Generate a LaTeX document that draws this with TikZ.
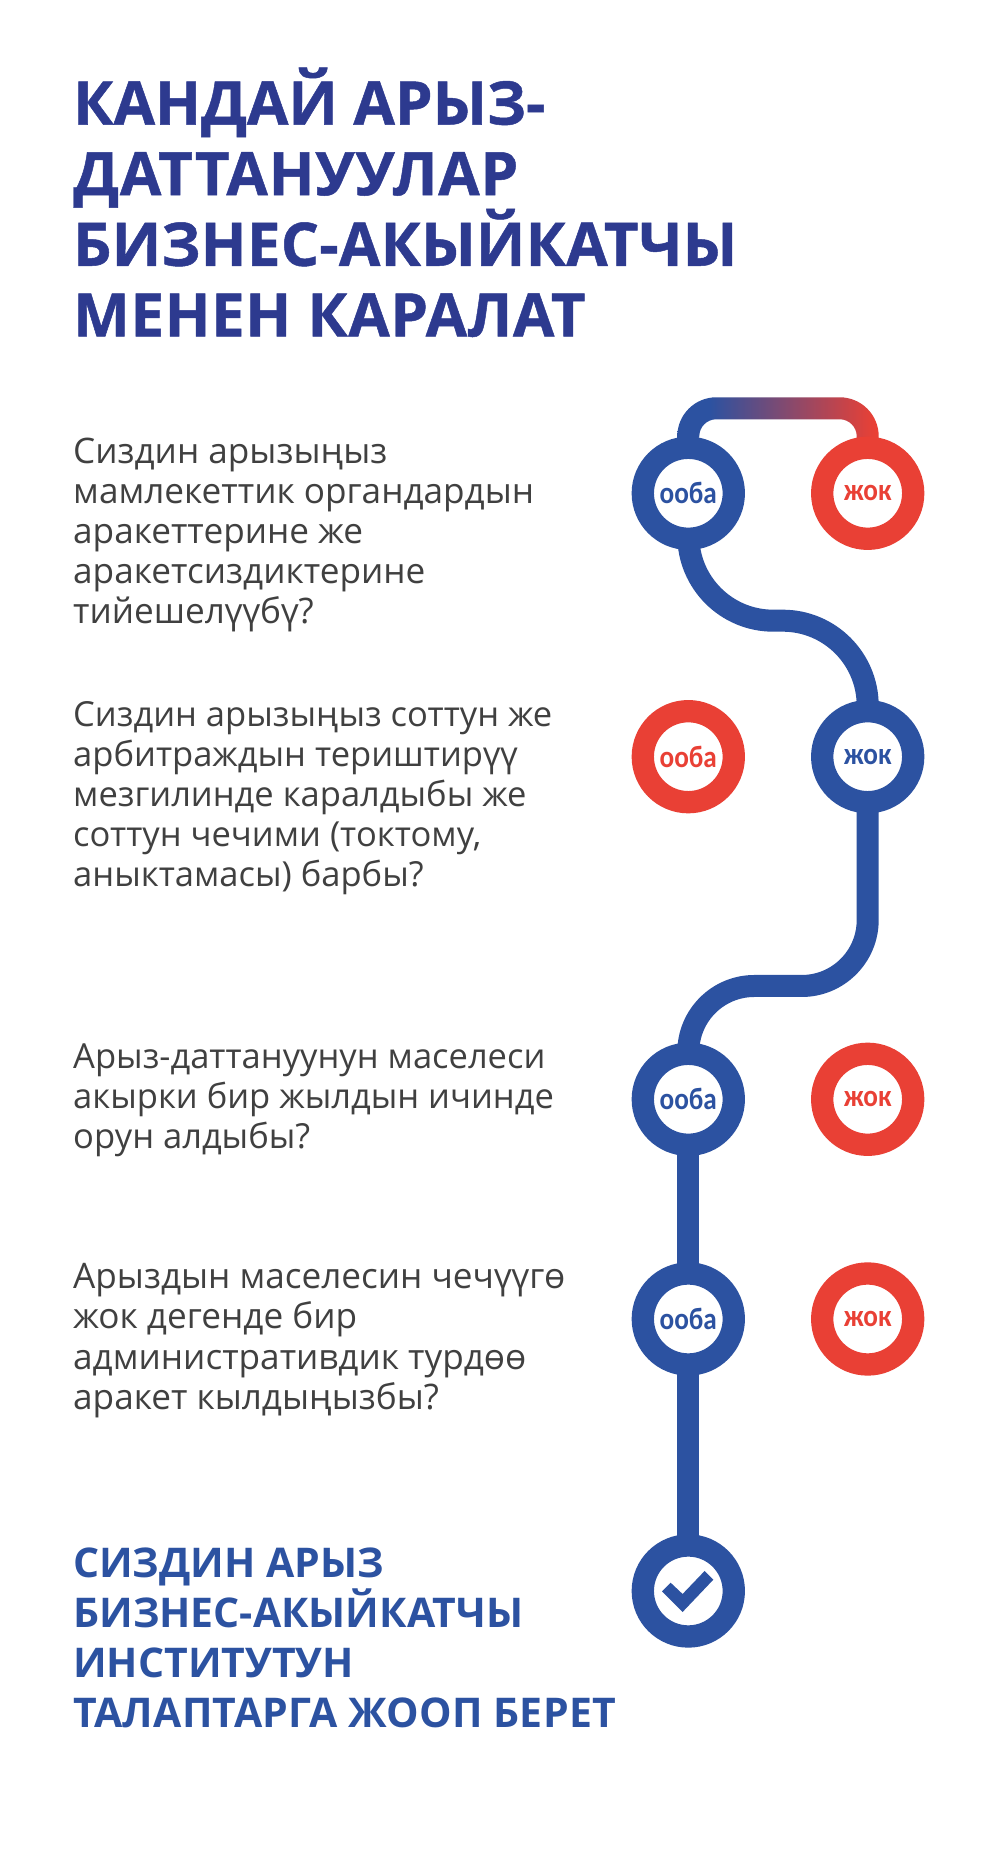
\documentclass[tikz,border=0pt]{standalone}
\usepackage{fontspec}
\setmainfont{Open Sans}
\newfontfamily\tagfont[FakeStretch=.88]{Carlito}
\newfontfamily\titlefont[BoldFeatures={FakeBold=.8}]{Open Sans}
\usetikzlibrary{backgrounds, calc}

\definecolor{titleblue}{HTML}{2D3A8F}
\definecolor{pathblue}{HTML}{2C52A1}
\definecolor{nored}{HTML}{E94035}
\definecolor{bodygrey}{HTML}{404040}

\pgfdeclarehorizontalshading{toplink}{100bp}{color(0bp)=(pathblue); color(33bp)=(pathblue); color(74bp)=(nored); color(100bp)=(nored)}

\newcommand{\tracked}[2]{{\addfontfeature{LetterSpace=#1}#2}}

\tikzset{
	bluering/.style={circle, draw=pathblue, fill=white, text=pathblue, line width=.223cm, minimum size=.91cm, inner sep=0pt, font=\tagfont\bfseries\fontsize{8.8}{10}\selectfont},
	redring/.style={bluering, draw=nored, text=nored},
	pathline/.style={draw=pathblue, line width=.22cm},
	question/.style={anchor=north west, inner sep=0pt, align=left, text=bodygrey, font=\fontsize{10}{11.4}\selectfont},
	smallquestion/.style={question, font=\fontsize{9.82}{11.4}\selectfont},
	headline/.style={anchor=north west, inner sep=0pt, align=left, text=titleblue, font=\titlefont\bfseries\fontsize{17.1}{20.1}\selectfont},
	verdict/.style={anchor=north west, inner sep=0pt, align=left, text=pathblue, font=\bfseries\fontsize{11.65}{14.2}\selectfont}
}

\begin{document}
\begin{tikzpicture}
	\useasboundingbox (0,0) rectangle (10,18.7);

	\node[headline] (title) at (.725,18.03) {КАНДАЙ АРЫЗ-\\\tracked{1.4}{ДАТТАНУУЛАР}\\\tracked{.4}{БИЗНЕС-АКЫЙКАТЧЫ}\\\tracked{.9}{МЕНЕН КАРАЛАТ}};

	\node[question] (q1) at (.725,14.33) {Сиздин арызыңыз\\мамлекеттик органдардын\\аракеттерине же\\аракетсиздиктерине\\тийешелүүбү?};
	\node[smallquestion] (q2) at (.725,11.69) {Сиздин арызыңыз соттун же\\арбитраждын териштирүү\\мезгилинде каралдыбы же\\соттун чечими (токтому,\\аныктамасы) барбы?};
	\node[smallquestion] (q3) at (.725,8.27) {Арыз-даттануунун маселеси\\акырки бир жылдын ичинде\\орун алдыбы?};
	\node[question] (q4) at (.725,6.07) {Арыздын маселесин чечүүгө\\жок дегенде бир\\административдик турдөө\\аракет кылдыңызбы?};
	\node[verdict] (result) at (.725,3.23) {СИЗДИН АРЫЗ\\БИЗНЕС-АКЫЙКАТЧЫ\\ИНСТИТУТУН\\\tracked{.7}{ТАЛАПТАРГА ЖООП БЕРЕТ}};

	\node[bluering] (yes1) at (6.883,13.767) {ооба};
	\node[redring] (no1) at (8.677,13.767) {жок};
	\node[redring] (yes2) at (6.883,11.133) {ооба};
	\node[bluering] (no2) at (8.677,11.133) {жок};
	\node[bluering] (yes3) at (6.883,7.707) {ооба};
	\node[redring] (no3) at (8.677,7.707) {жок};
	\node[bluering] (yes4) at (6.883,5.51) {ооба};
	\node[redring] (no4) at (8.677,5.51) {жок};
	\node[bluering] (done) at (6.883,2.79) {};

	\fill[pathblue] ($(done)+(-.263,-.003)$) -- ++(.086,.086) -- ++(.12,-.113) -- ++(.22,.23) -- ++(.087,-.087) -- ++(-.307,-.323) -- cycle;

	\begin{scope}[on background layer]
		\fill[white] (0,0) rectangle (10,18.7);
		\shade[shading=toplink] ($(yes1.center)+(-.11,0)$) -- ++(0,.57) arc[start angle=180, end angle=90, radius=.39] -- ++(1.234,0) arc[start angle=90, end angle=0, radius=.39] -- ++(0,-.57) -- ++(-.22,0) -- ++(0,.57) arc[start angle=0, end angle=90, radius=.17] -- ++(-1.234,0) arc[start angle=90, end angle=180, radius=.17] -- cycle;
		\draw[pathline] (yes1.center) -- ++(0,-.424) arc[start angle=180, end angle=270, radius=.85] -- ++(.094,0) arc[start angle=90, end angle=0, radius=.85] -- (no2.center);
		\draw[pathline] (no2.center) -- ++(0,-1.633) arc[start angle=0, end angle=-90, radius=.66] -- ++(-.474,0) arc[start angle=90, end angle=180, radius=.66] -- (yes3.center);
		\draw[pathline] (yes3.center) -- (yes4.center);
		\draw[pathline] (yes4.center) -- (done.center);
	\end{scope}
\end{tikzpicture}
\end{document}
